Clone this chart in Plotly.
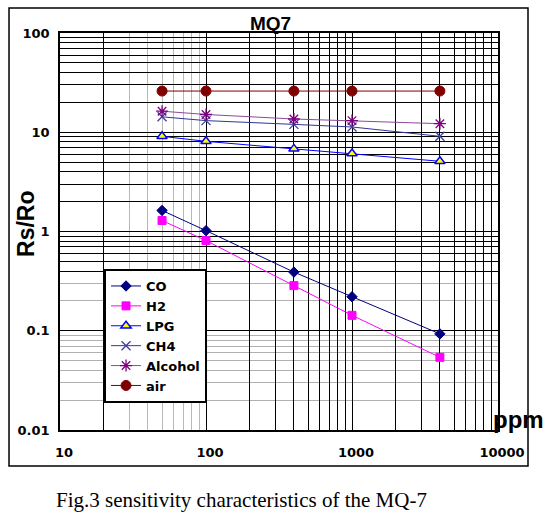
import plotly.graph_objects as go

# ---- data ----
ppm = [50, 100, 400, 1000, 4000]
co = [1.63, 1.02, 0.39, 0.22, 0.093]
h2 = [1.29, 0.81, 0.285, 0.143, 0.054]
lpg = [9.1, 8.1, 6.8, 6.1, 5.1]
ch4 = [14.3, 13.1, 12.0, 11.3, 9.1]
alcohol = [16.3, 15.1, 13.6, 13.1, 12.2]
air = [26, 26, 26, 26, 26]

x_tick_vals = [10, 100, 1000, 10000]
x_tick_text = ["10", "100", "1000", "10000"]
y_tick_vals = [0.01, 0.1, 1, 10, 100]
y_tick_text = ["0.01", "0.1", "1", "10", "100"]

# grid lines (black ones drawn with major grid, grey ones with minor grid)
x_black_grid = [20, 200, 300, 400, 500, 600, 700, 800, 900,
                2000, 3000, 4000, 5000, 6000, 7000, 8000, 9000]
x_gray_grid = [30, 40, 50, 60, 70, 80, 90]
y_black_grid = [0.4, 0.5, 0.6, 0.7, 0.8, 0.9, 2, 3, 4, 5, 6, 7, 8, 9,
                20, 30, 40, 50, 60, 70, 80, 90]
y_gray_grid = [0.02, 0.03, 0.04, 0.05, 0.06, 0.07, 0.08, 0.09, 0.2, 0.3]

x_major = sorted(x_tick_vals + x_black_grid)
x_major_text = [dict(zip(x_tick_vals, x_tick_text)).get(v, "") for v in x_major]
y_major = sorted(y_tick_vals + y_black_grid)
y_major_text = [dict(zip(y_tick_vals, y_tick_text)).get(v, "") for v in y_major]

series = [
    ("CO", co, dict(symbol="diamond", size=8, color="#000080",
                    line=dict(color="#000080", width=1)), "#000080"),
    ("H2", h2, dict(symbol="square", size=8, color="#FF00FF",
                    line=dict(color="#FF00FF", width=1)), "#FF00FF"),
    ("LPG", lpg, dict(symbol="triangle-up", size=9, color="#FFFF00",
                      line=dict(color="#0000FF", width=1.5)), "#0000FF"),
    ("CH4", ch4, dict(symbol="x-thin-open", size=9, color="#4040A0",
                      line=dict(color="#4040A0", width=1.3)), "#333399"),
    ("Alcohol", alcohol, dict(symbol="asterisk-open", size=10, color="#800080",
                              line=dict(color="#800080", width=1.3)), "#8E4A9A"),
    ("air", air, dict(symbol="circle", size=10, color="#800000",
                      line=dict(color="#800000", width=1)), "#800000"),
]

fig = go.Figure()
for name, vals, marker, lc in series:
    fig.add_trace(go.Scatter(
        x=ppm, y=vals, name=name, mode="lines+markers",
        line=dict(color=lc, width=1), marker=marker,
        legendgroup=name,
    ))

tick_font = dict(family="DejaVu Sans", size=13, color="black", weight="bold")

fig.update_layout(
    width=549, height=515,
    margin=dict(l=60, r=51, t=33, b=85, autoexpand=False),
    paper_bgcolor="white", plot_bgcolor="white",
    showlegend=True,
    legend=dict(
        x=0.1005, y=0.4055, xanchor="left", yanchor="top",
        bgcolor="white", bordercolor="black", borderwidth=2,
        font=dict(family="DejaVu Sans", size=13, color="black", weight="bold"),
        tracegroupgap=0,
    ),
    xaxis=dict(
        type="log", range=[1, 4], automargin=False,
        tickmode="array", tickvals=x_major, ticktext=x_major_text,
        ticks="", tickfont=tick_font, ticklabelstandoff=10, ticklabelshift=4,
        showgrid=True, gridcolor="black", gridwidth=1,
        minor=dict(tickmode="array", tickvals=x_gray_grid, showgrid=True,
                   gridcolor="#B8B8B8", gridwidth=1, ticks=""),
        showline=True, linecolor="black", linewidth=1.5, mirror=True,
        zeroline=False,
    ),
    yaxis=dict(
        type="log", range=[-2, 2], automargin=False,
        tickmode="array", tickvals=y_major, ticktext=y_major_text,
        ticks="", tickfont=tick_font, ticklabelstandoff=6,
        showgrid=True, gridcolor="black", gridwidth=1,
        minor=dict(tickmode="array", tickvals=y_gray_grid, showgrid=True,
                   gridcolor="#B0B0B0", gridwidth=1, ticks=""),
        showline=True, linecolor="black", linewidth=1.5, mirror=True,
        zeroline=False,
    ),
)

# outer frame of the chart
fig.add_shape(type="rect", xref="paper", yref="paper",
              x0=-0.1164, x1=1.0685, y0=-0.0907, y1=1.063,
              line=dict(color="black", width=1.5), fillcolor="rgba(0,0,0,0)")

fig.add_annotation(text="MQ7", xref="paper", yref="paper", x=0.4795, y=1.0227,
                   xanchor="center", yanchor="middle", showarrow=False,
                   font=dict(family="Liberation Sans", size=19, color="black", weight="bold"))
fig.add_annotation(text="Rs/Ro", xref="paper", yref="paper", x=-0.0776, y=0.519,
                   xanchor="center", yanchor="middle", showarrow=False, textangle=-90,
                   font=dict(family="Liberation Sans", size=23, color="black", weight="bold"))
fig.add_annotation(text="ppm", xref="paper", yref="paper", x=1.0457, y=0.0252,
                   xanchor="center", yanchor="middle", showarrow=False,
                   font=dict(family="Liberation Sans", size=24, color="black", weight="bold"))
fig.add_annotation(text="Fig.3 sensitivity characteristics of the MQ-7",
                   xref="paper", yref="paper", x=0.4144, y=-0.1763,
                   xanchor="center", yanchor="middle", showarrow=False,
                   font=dict(family="Liberation Serif", size=21, color="black"))

fig.write_html("out.html",
               config={"displayModeBar": False},
               post_script="document.body.style.margin='0';document.body.style.padding='0';")
